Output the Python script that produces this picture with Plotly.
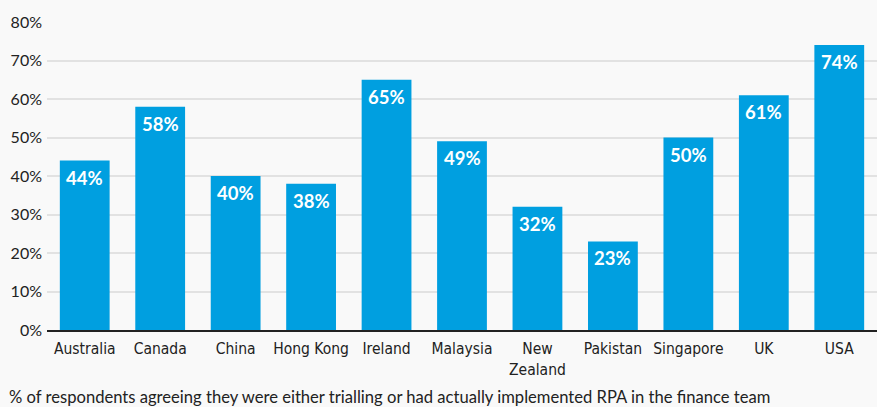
import plotly.graph_objects as go

categories = ["Australia", "Canada", "China", "Hong Kong", "Ireland", "Malaysia",
              "New<br>Zealand", "Pakistan", "Singapore", "UK", "USA"]
values = [44, 58, 40, 38, 65, 49, 32, 23, 50, 61, 74]
labels = [f"{v}%" for v in values]
tick_vals = [0, 10, 20, 30, 40, 50, 60, 70, 80]
tick_text = [f"{t}%" for t in tick_vals]
footnote = "% of respondents agreeing they were either trialling or had actually implemented RPA in the finance team"

bg = "#f9f9f9"
fig = go.Figure()
fig.add_trace(go.Bar(x=categories, y=values, marker_color="#009fe0",
                     marker_line_width=0, hoverinfo="skip"))

for c, v, l in zip(categories, values, labels):
    fig.add_annotation(x=c, y=v, text=f"<b>{l}</b>", showarrow=False,
                       yshift=-17, font=dict(family="Lato", size=18.5, color="white"))

fig.add_annotation(xref="paper", yref="paper", x=-40/830, y=-67/308,
                   xanchor="left", yanchor="middle", showarrow=False,
                   text=footnote, font=dict(family="Lato", size=16.6, color="#222"))

fig.update_layout(
    width=877, height=407,
    margin=dict(l=47, r=0, t=22, b=77),
    paper_bgcolor=bg, plot_bgcolor=bg,
    bargap=0.34, showlegend=False,
    xaxis=dict(showline=True, linecolor="#222", linewidth=1.5,
               tickfont=dict(family="Liberation Sans Narrow, DejaVu Sans Condensed", size=15.5, color="#222"),
               ticks="", showgrid=False, ticklabelstandoff=4),
    yaxis=dict(range=[0, 80], tickvals=tick_vals, ticktext=tick_text,
               gridcolor="#e2e2e2", gridwidth=1.5, zeroline=False,
               tickfont=dict(family="Lato", size=16, color="#222"),
               ticks="", ticklabelstandoff=4),
)

fig.write_html("out.html", config={"displayModeBar": False})
with open("out.html", encoding="utf-8") as f:
    html = f.read()
html = html.replace("<body>", f'<body style="margin:0;background:{bg}">', 1)
with open("out.html", "w", encoding="utf-8") as f:
    f.write(html)
